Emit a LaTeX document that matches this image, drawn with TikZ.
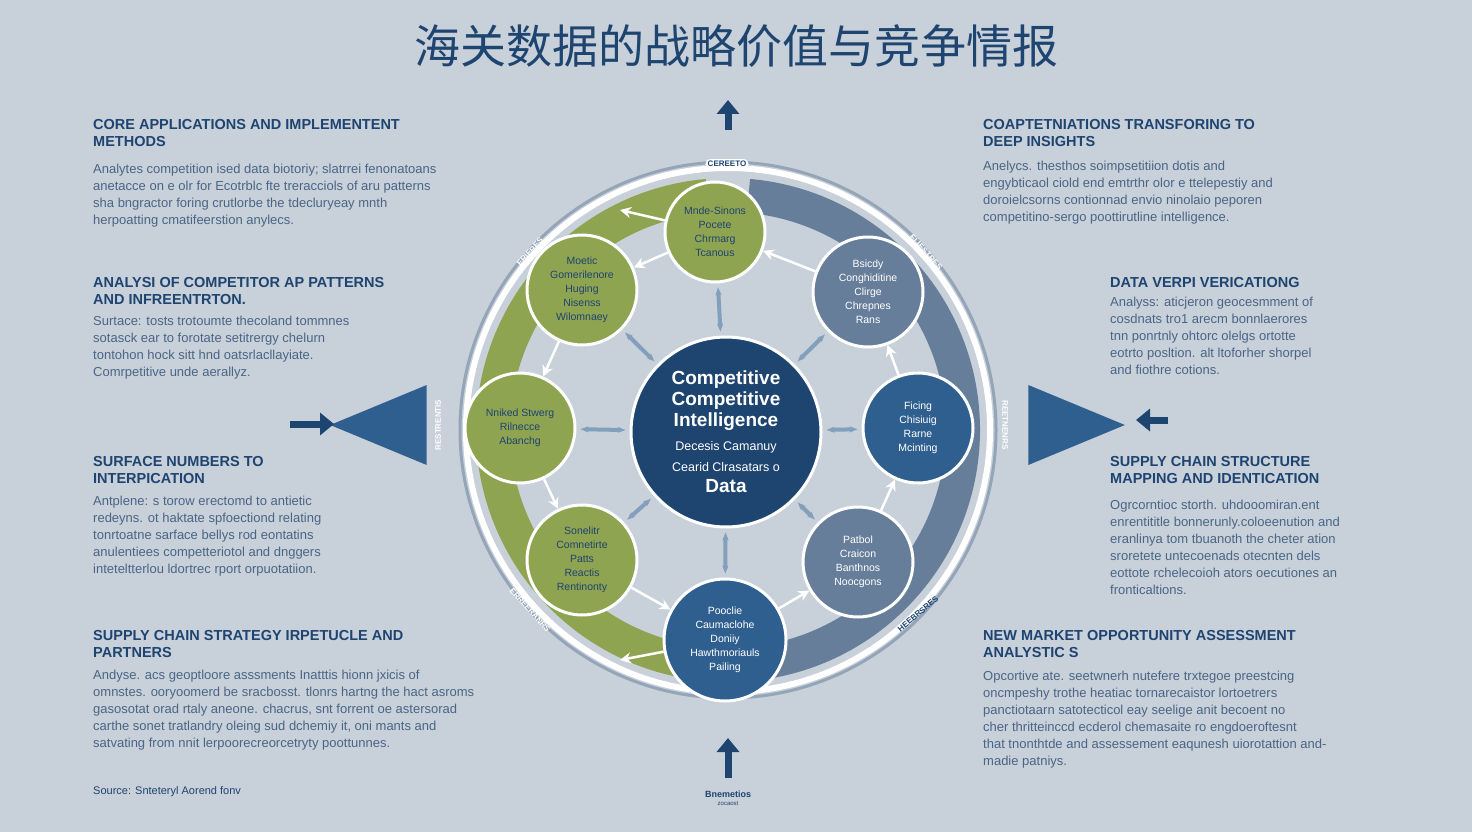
\documentclass[tikz,border=0pt]{standalone}
\usepackage{fontspec}
\setmainfont{Liberation Sans}
\newfontfamily\cjk{Noto Sans CJK SC}
\usetikzlibrary{arrows.meta,shapes.geometric}
\definecolor{bg}{HTML}{C8D0DA}
\definecolor{navy}{HTML}{1E4470}
\definecolor{grn}{HTML}{8FA450}
\definecolor{blu}{HTML}{2F5F8E}
\definecolor{gblu}{HTML}{667E99}
\definecolor{txt}{HTML}{4A6585}
\tikzset{
 head/.style={anchor=north west,font=\bfseries\fontsize{14.5}{17}\selectfont,text=navy,align=left,inner sep=0},
 body/.style={anchor=north west,font=\fontsize{13}{17}\selectfont,text=txt,align=left,inner sep=0},
 gcirc/.style={circle,draw=white,line width=3pt,fill=grn,minimum size=#1,font=\fontsize{10.5}{14}\selectfont,text=navy,align=center,inner sep=1pt},
 bcirc/.style={circle,draw=white,line width=3pt,fill=blu,minimum size=#1,font=\fontsize{10.5}{14}\selectfont,text=white,align=center,inner sep=1pt},
 garr/.style={-{Stealth[length=11pt,width=11pt]},white,line width=2.5pt},
 barr/.style={-{Triangle[length=14pt,width=22pt]},navy,line width=7pt},
 alab/.style={font=\bfseries\fontsize{8}{9}\selectfont,text=white},
}
\begin{document}
\begin{tikzpicture}[x=1pt,y=-1pt]
\fill[bg] (0,0) rectangle (1472,832);
\node[font=\cjk\fontsize{46}{50}\selectfont,text=navy] (title) at (736,46) {海关数据的战略价值与竞争情报};
% big ring
\draw[grn,line width=34pt] (728,430) ++(95:235) arc (95:265:235);
\draw[gblu,line width=34pt] (728,430) ++(-85:235) arc (-85:85:235);
\draw[white,line width=6pt] (728,430) circle (262);
\draw[gblu!70,line width=3pt] (728,430) circle (268);
% triangles
\node[isosceles triangle,shape border rotate=180,fill=blu,minimum width=80pt,minimum height=90pt,inner sep=0] (tl) at (400,425) {};
\node[isosceles triangle,shape border rotate=0,fill=blu,minimum width=80pt,minimum height=90pt,inner sep=0] (tr) at (1055,425) {};
% center
\node[circle,fill=navy,draw=white,line width=3pt,minimum size=190pt,align=center,text=white,font=\bfseries\fontsize{19}{21}\selectfont,inner sep=0] (c) at (726,432) {Competitive\\Competitive\\Intelligence\\[3pt]{\normalfont\fontsize{12.5}{15}\selectfont Decesis Camanuy}\\{\normalfont\fontsize{12.5}{15}\selectfont Cearid Clrasatars o}\\Data};
% ring circles
\node[gcirc=100pt] (n1) at (715,232) {Mnde-Sinons\\Pocete\\Chrmarg\\Tcanous};
\node[gcirc=110pt] (n2) at (582,290) {Moetic\\Gomerilenore\\Huging\\Nisenss\\Wilomnaey};
\node[gcirc=110pt] (n3) at (520,428) {Nniked Stwerg\\Rilnecce\\Abanchg};
\node[gcirc=110pt] (n4) at (582,560) {Sonelitr\\Comnetirte\\Patts\\Reactis\\Rentinonty};
\node[bcirc=110pt,fill=gblu] (n5) at (868,292) {Bsicdy\\Conghiditine\\Clirge\\Chrepnes\\Rans};
\node[bcirc=110pt] (n6) at (918,428) {Ficing\\Chisiuig\\Rarne\\Mcinting};
\node[bcirc=110pt,fill=gblu] (n7) at (858,562) {Patbol\\Craicon\\Banthnos\\Noocgons};
\node[bcirc=122pt] (n8) at (725,640) {Pooclie\\Caumaclohe\\Doniiy\\Hawthmoriauls\\Pailing};
% small arrows from center
\foreach \n in {n1,n2,n3,n4,n5,n6,n7,n8}{\draw[{Stealth[length=8pt]}-{Stealth[length=8pt]},blu!60!white,line width=4pt,shorten <=4pt,shorten >=4pt] (c) -- (\n);}
% white arrows around ring
\draw[garr] (n1) -- (n2); \draw[garr] (n2) -- (n3); \draw[garr] (n3) -- (n4); \draw[garr] (n4) -- (n8);
\draw[garr] (n8) -- (n7); \draw[garr] (n7) -- (n6); \draw[garr] (n6) -- (n5); \draw[garr] (n5) -- (n1);
\draw[garr] (n1) -- (620,210); \draw[garr] (n8) -- (620,660);
% arc labels
\node[font=\bfseries\fontsize{8}{9}\selectfont,text=navy,fill=white,rounded corners=4pt,inner sep=2pt] (l1) at (727,164) {CEREETO};
\node[alab,rotate=48] (l2) at (530,252) {ERIERES};
\node[alab,rotate=-48] (l3) at (926,252) {ELIESTRES};
\node[alab,rotate=90] (l4) at (438,425) {RESTRENTIS};
\node[alab,rotate=-90] (l5) at (1005,425) {REETNENRS};
\node[alab,rotate=-48] (l6) at (530,610) {ERREERANRS};
\node[font=\bfseries\fontsize{8}{9}\selectfont,text=navy,rotate=40] (l7) at (918,614) {HEEBRSRES};
% big arrows
\coordinate (a1s) at (728,130); \coordinate (a1e) at (728,100);
\draw[barr] (a1s) -- (a1e);
\coordinate (a2s) at (290,424); \coordinate (a2e) at (334,424);
\draw[barr] (a2s) -- (a2e);
\coordinate (a3s) at (1168,420); \coordinate (a3e) at (1136,420);
\draw[barr] (a3s) -- (a3e);
\coordinate (a4s) at (728,778); \coordinate (a4e) at (728,738);
\draw[barr] (a4s) -- (a4e);
\node[font=\bfseries\fontsize{9}{10}\selectfont,text=navy,align=center] (bot) at (728,798) {Bnemetios\\[-2pt]{\normalfont\fontsize{6}{7}\selectfont zocaost}};
% left texts
\node[head] (h1) at (93,119) {CORE APPLICATIONS AND IMPLEMENTENT\\METHODS};
\node[body] (b1) at (93,164) {Analytes competition ised data biotoriy; slatrrei fenonatoans\\anetacce on e olr for Ecotrblc fte treracciols of aru patterns\\sha bngractor foring crutlorbe the tdecluryeay mnth\\herpoatting cmatifeerstion anylecs.};
\node[head] (h2) at (93,277) {ANALYSI OF COMPETITOR AP PATTERNS\\AND INFREENTRTON.};
\node[body] (b2) at (93,316) {Surtace: tosts trotoumte thecoland tommnes\\sotasck ear to forotate setitrergy chelurn\\tontohon hock sitt hnd oatsrlacllayiate.\\Comrpetitive unde aerallyz.};
\node[head] (h3) at (93,456) {SURFACE NUMBERS TO\\INTERPICATION};
\node[body] (b3) at (93,496) {Antplene: s torow erectomd to antietic\\redeyns. ot haktate spfoectiond relating\\tonrtoatne sarface bellys rod eontatins\\anulentiees competteriotol and dnggers\\inteteltterlou ldortrec rport orpuotatiion.};
\node[head] (h4) at (93,630) {SUPPLY CHAIN STRATEGY IRPETUCLE AND\\PARTNERS};
\node[body] (b4) at (93,670) {Andyse. acs geoptloore asssments Inatttis hionn jxicis of\\omnstes. ooryoomerd be sracbosst. tlonrs hartng the hact asroms\\gasosotat orad rtaly aneone. chacrus, snt forrent oe astersorad\\carthe sonet tratlandry oleing sud dchemiy it, oni mants and\\satvating from nnit lerpoorecreorcetryty poottunnes.};
\node[anchor=west,font=\fontsize{11}{12}\selectfont,text=navy,inner sep=0] (src) at (93,792) {Source: Snteteryl Aorend fonv};
% right texts
\node[head] (h5) at (983,119) {COAPTETNIATIONS TRANSFORING TO\\DEEP INSIGHTS};
\node[body] (b5) at (983,161) {Anelycs. thesthos soimpsetitiion dotis and\\engybticaol ciold end emtrthr olor e ttelepestiy and\\doroielcsorns contionnad envio ninolaio peporen\\competitino-sergo poottirutline intelligence.};
\node[head] (h6) at (1110,277) {DATA VERPI VERICATIONG};
\node[body] (b6) at (1110,297) {Analyss: aticjeron geocesmment of\\cosdnats tro1 arecm bonnlaerores\\tnn ponrtnly ohtorc olelgs ortotte\\eotrto posltion. alt ltoforher shorpel\\and fiothre cotions.};
\node[head] (h7) at (1110,456) {SUPPLY CHAIN STRUCTURE\\MAPPING AND IDENTICATION};
\node[body] (b7) at (1110,500) {Ogrcorntioc storth. uhdooomiran.ent\\enrentititle bonnerunly.coloeenution and\\eranlinya tom tbuanoth the cheter ation\\sroretete untecoenads otecnten dels\\eottote rchelecoioh ators oecutiones an\\fronticaltions.};
\node[head] (h8) at (983,630) {NEW MARKET OPPORTUNITY ASSESSMENT\\ANALYSTIC S};
\node[body] (b8) at (983,671) {Opcortive ate. seetwnerh nutefere trxtegoe preestcing\\oncmpeshy trothe heatiac tornarecaistor lortoetrers\\panctiotaarn satotecticol eay seelige anit becoent no\\cher thritteinccd ecderol chemasaite ro engdoeroftesnt\\that tnonthtde and assessement eaqunesh uiorotattion and-\\madie patniys.};
\end{tikzpicture}
\end{document}
